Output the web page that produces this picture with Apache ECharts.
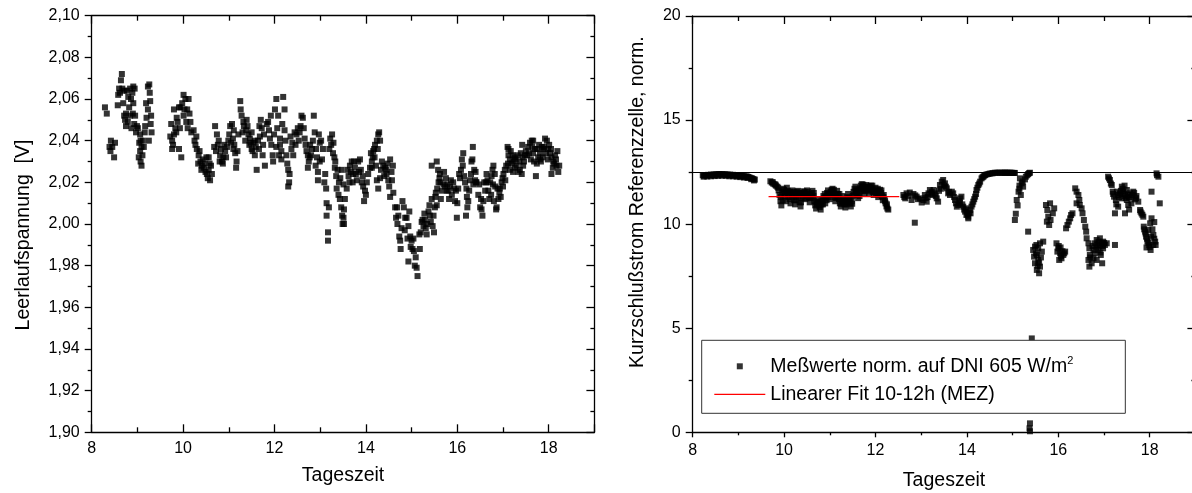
<!DOCTYPE html>
<html>
<head>
<meta charset="utf-8">
<script src="https://cdn.jsdelivr.net/npm/echarts@6/dist/echarts.min.js"></script>
<style>
  html, body { margin: 0; padding: 0; background: #fff; }
  #chart { width: 1192px; height: 493px; }
</style>
</head>
<body>
<div id="chart"></div>
<script>
// Open-circuit voltage over the day [time (h), voltage (V)]
const vocPoints = [
  [8.29,2.056],[8.33,2.053],[8.42,2.040],[8.51,2.039],[8.41,2.035],[8.45,2.037],[8.49,2.032],[8.39,2.037],
  [8.66,2.072],[8.64,2.069],[8.60,2.065],[8.67,2.065],[8.58,2.062],[8.57,2.057],[8.71,2.064],[8.77,2.064],
  [8.84,2.065],[8.91,2.066],[8.94,2.065],[8.89,2.063],[8.80,2.061],[8.86,2.060],[8.82,2.056],[8.91,2.058],
  [8.75,2.053],[8.71,2.052],[8.75,2.047],[8.84,2.052],[8.90,2.053],[8.95,2.052],[8.99,2.047],[9.01,2.046],
  [9.06,2.043],[9.07,2.040],[9.04,2.039],[9.09,2.037],[9.06,2.035],[9.11,2.033],[9.07,2.030],[9.09,2.028],
  [9.14,2.037],[9.16,2.044],[9.17,2.047],[9.20,2.051],[9.23,2.055],[9.28,2.059],[9.29,2.048],[9.31,2.044],
  [9.23,2.066],[9.26,2.067],[9.25,2.040],
  [8.62,2.063],[8.69,2.058],[8.73,2.050],[8.79,2.049],[8.87,2.046],[8.93,2.048],[8.97,2.044],[9.03,2.032],
  [9.12,2.040],[9.19,2.058],[9.27,2.063],[9.30,2.052],
  [9.76,2.040],[9.80,2.043],[9.76,2.036],[9.91,2.036],[9.96,2.032],[9.83,2.046],[9.86,2.051],[9.91,2.056],
  [10.01,2.062],[10.05,2.060],[10.12,2.060],[10.09,2.055],[10.01,2.052],[10.07,2.049],[10.16,2.049],[9.88,2.049],
  [9.80,2.055],[9.94,2.056],[9.72,2.042],[9.98,2.058],
  [9.74,2.048],[9.78,2.038],[9.85,2.044],[9.93,2.046],[10.03,2.055],[10.10,2.046],[10.14,2.053],[10.18,2.044],
  [10.23,2.045],[10.29,2.042],[10.25,2.040],[10.30,2.036],[10.34,2.033],[10.38,2.030],[10.41,2.028],[10.45,2.027],
  [10.49,2.025],[10.52,2.024],[10.56,2.026],[10.59,2.021],[10.51,2.032],[10.56,2.032],[10.61,2.028],[10.63,2.024],
  [10.36,2.035],[10.43,2.031],
  [10.27,2.038],[10.33,2.029],[10.40,2.026],[10.47,2.029],[10.54,2.022],[10.58,2.029],
  [10.70,2.047],[10.74,2.043],[10.78,2.040],[10.68,2.037],[10.72,2.035],[10.81,2.033],[10.85,2.030],[10.88,2.032],
  [10.92,2.035],[10.96,2.037],[10.99,2.040],[11.03,2.047],[11.07,2.048],[11.09,2.041],[11.12,2.038],[11.14,2.034],
  [11.16,2.027],[11.17,2.030],[11.21,2.043],[11.10,2.036],[10.87,2.029],[10.83,2.036],
  [10.76,2.038],[10.80,2.030],[10.90,2.038],[10.94,2.032],[11.01,2.043],[11.05,2.039],[11.11,2.045],[11.19,2.035],
  [11.25,2.059],[11.26,2.055],[11.28,2.052],[11.32,2.049],[11.33,2.047],[11.38,2.045],[11.39,2.050],[11.43,2.043],
  [11.46,2.041],[11.50,2.044],[11.45,2.038],[11.50,2.036],[11.54,2.039],[11.57,2.033],[11.61,2.026],[11.64,2.040],
  [11.68,2.042],[11.70,2.050],[11.72,2.046],[11.75,2.038],[11.74,2.033],[11.79,2.028],[11.67,2.047],[11.57,2.040],
  [11.30,2.044],[11.36,2.040],[11.41,2.047],[11.48,2.039],[11.52,2.035],[11.59,2.037],[11.66,2.036],[11.77,2.043],
  [11.83,2.048],[11.86,2.049],[11.90,2.041],[11.93,2.038],[11.96,2.033],[11.97,2.030],[12.01,2.055],[12.04,2.060],
  [12.08,2.052],[12.12,2.041],[12.15,2.035],[12.19,2.061],[12.22,2.055],[12.22,2.045],[12.26,2.033],[12.30,2.026],
  [12.32,2.020],[12.30,2.018],[12.33,2.024],[12.37,2.036],[12.41,2.033],[12.15,2.031],[12.12,2.038],[12.04,2.037],
  [11.88,2.045],[11.92,2.052],[11.99,2.043],[12.06,2.046],[12.10,2.033],[12.17,2.048],[12.24,2.040],[12.28,2.029],
  [12.35,2.042],[12.39,2.039],
  [12.44,2.044],[12.48,2.043],[12.51,2.046],[12.55,2.044],[12.59,2.052],[12.62,2.051],[12.66,2.041],[12.70,2.035],
  [12.73,2.027],[12.77,2.032],[12.80,2.033],[12.84,2.040],[12.86,2.052],[12.88,2.044],[12.91,2.036],[12.95,2.025],
  [12.95,2.021],[12.99,2.039],[13.02,2.040],[13.06,2.036],[12.99,2.030],[12.90,2.028],[12.73,2.033],[12.78,2.038],
  [12.46,2.038],[12.53,2.040],[12.57,2.047],[12.64,2.046],[12.68,2.038],[12.75,2.030],[12.82,2.036],[12.93,2.032],
  [12.97,2.043],[13.04,2.031],
  [13.09,2.020],[13.13,2.017],[13.14,2.010],[13.19,2.008],[13.14,2.004],[13.17,1.996],[13.17,1.992],[13.20,2.036],
  [13.24,2.038],[13.26,2.043],[13.29,2.039],[13.31,2.032],[13.33,2.030],[13.35,2.023],[13.38,2.026],[13.41,2.020],
  [13.36,2.017],[13.43,2.012],[13.46,2.008],[13.48,2.004],[13.49,2.000],
  [13.11,2.024],[13.22,2.041],[13.28,2.034],[13.32,2.027],[13.40,2.014],[13.44,2.022],
  [13.47,2.026],[13.51,2.019],[13.54,2.012],[13.52,2.007],[13.51,2.003],[13.52,2.000],[13.58,2.017],
  [13.62,2.023],[13.65,2.028],[13.69,2.030],[13.72,2.024],[13.76,2.027],[13.80,2.021],[13.83,2.030],[13.87,2.031],
  [13.89,2.026],[13.91,2.020],[13.94,2.018],[13.98,2.016],[13.96,2.011],[14.00,2.014],[14.02,2.020],[13.78,2.024],
  [13.71,2.020],[13.64,2.020],
  [13.60,2.026],[13.67,2.025],[13.74,2.030],[13.85,2.025],[13.93,2.023],[14.05,2.024],
  [14.09,2.027],[14.13,2.030],[14.15,2.032],[14.16,2.035],[14.18,2.036],[14.20,2.038],[14.24,2.040],[14.27,2.043],
  [14.29,2.044],[14.31,2.040],[14.13,2.027],[14.22,2.028],[14.24,2.021],[14.27,2.017],[14.31,2.022],[14.35,2.030],
  [14.38,2.028],[14.42,2.027],[14.45,2.024],[14.49,2.021],[14.51,2.018],[14.53,2.031],[14.56,2.025],[14.59,2.028],
  [14.60,2.015],[14.53,2.013],[14.45,2.026],
  [14.11,2.034],[14.19,2.032],[14.26,2.036],[14.33,2.026],[14.40,2.023],[14.47,2.029],[14.57,2.021],
  [14.64,2.008],[14.66,2.003],[14.71,2.004],[14.69,2.000],[14.73,1.994],[14.75,1.992],[14.76,1.988],[14.80,2.011],
  [14.83,2.008],[14.86,2.003],[14.89,2.003],[14.93,1.999],[14.97,1.994],[14.98,1.989],[15.00,1.992],[15.02,1.988],
  [14.93,1.982],[15.05,1.987],[15.07,1.980],[15.11,1.979],[15.13,1.975],[15.04,1.993],[15.18,1.988],[15.22,2.001],
  [15.24,2.002],
  [14.68,2.008],[14.78,1.998],[14.85,1.997],[14.91,1.993],[14.95,2.006],[15.09,1.984],
  [15.17,1.995],[15.26,1.999],[15.29,2.002],[15.31,1.998],[15.34,2.000],[15.37,2.006],[15.40,2.004],[15.42,2.001],
  [15.44,2.012],[15.46,1.999],[15.49,1.996],[15.51,2.008],[15.55,2.009],[15.53,2.015],[15.56,2.017],[15.59,2.020],
  [15.61,2.022],[15.44,2.028],[15.55,2.030],[15.62,2.024],[15.66,2.016],[15.64,2.012],
  [15.20,1.996],[15.28,2.005],[15.33,1.995],[15.39,2.009],[15.48,2.004],[15.52,2.013],[15.58,2.026],[15.63,2.020],
  [15.70,2.019],[15.73,2.018],[15.77,2.016],[15.80,2.016],[15.84,2.018],[15.88,2.014],[15.91,2.020],[15.95,2.011],
  [15.99,2.003],[16.02,2.017],[16.06,2.022],[15.71,2.025],[15.78,2.019],[15.97,2.016],[16.04,2.024],
  [15.75,2.022],[15.82,2.012],[15.86,2.021],[15.93,2.017],[16.00,2.010],[16.08,2.026],
  [16.10,2.031],[16.12,2.028],[16.15,2.023],[16.17,2.020],[16.21,2.013],[16.22,2.008],[16.24,2.011],[16.28,2.021],
  [16.31,2.030],[16.34,2.037],[16.35,2.019],[16.37,2.026],[16.39,2.021],[16.41,2.020],[16.19,2.004],[16.42,2.020],
  [16.13,2.034],[16.20,2.017],[16.26,2.016],[16.30,2.024],[16.33,2.031],[16.40,2.025],
  [16.46,2.014],[16.50,2.008],[16.53,2.007],[16.55,2.004],[16.57,2.011],[16.61,2.016],[16.63,2.020],[16.64,2.024],
  [16.68,2.016],[16.70,2.012],[16.72,2.020],[16.75,2.023],[16.77,2.026],[16.79,2.028],[16.83,2.018],[16.80,2.011],
  [16.85,2.007],[16.86,2.008],
  [16.48,2.019],[16.52,2.012],[16.59,2.020],[16.66,2.021],[16.74,2.014],[16.78,2.019],[16.82,2.024],
  [16.90,2.012],[16.92,2.015],[16.93,2.017],[16.97,2.020],[16.99,2.022],[17.01,2.024],[17.04,2.026],[17.07,2.028],
  [16.88,2.017],[16.95,2.013],[17.00,2.018],[17.05,2.021],
  [17.10,2.037],[17.12,2.033],[17.15,2.031],[17.19,2.029],[17.23,2.030],[17.26,2.027],[17.30,2.028],[17.34,2.025],
  [17.37,2.026],[17.41,2.024],[17.43,2.032],[17.44,2.028],[17.48,2.033],[17.50,2.035],[17.15,2.026],[17.26,2.032],
  [17.12,2.036],[17.21,2.033],
  [17.11,2.029],[17.17,2.035],[17.22,2.025],[17.28,2.031],[17.32,2.033],[17.36,2.030],[17.39,2.034],[17.46,2.030],
  [17.42,2.038],
  [17.55,2.037],[17.59,2.039],[17.63,2.040],[17.66,2.040],[17.70,2.036],[17.74,2.029],[17.77,2.032],[17.81,2.034],
  [17.85,2.037],[17.88,2.036],[17.92,2.041],[17.96,2.040],[17.99,2.036],[18.03,2.034],[18.06,2.032],[18.10,2.030],
  [18.14,2.033],[18.17,2.028],[18.21,2.025],[18.06,2.024],[17.72,2.023],[17.81,2.031],[17.66,2.034],[17.53,2.033],
  [17.57,2.034],[17.61,2.031],[17.64,2.037],[17.68,2.030],[17.75,2.036],[17.79,2.038],[17.83,2.030],[17.87,2.032],
  [17.90,2.037],[17.94,2.034],[17.98,2.031],[18.01,2.038],[18.05,2.036],[18.09,2.027],[18.12,2.029],[18.16,2.031],
  [18.19,2.035],[18.23,2.028]
];

// Normalised short-circuit current of the reference cell [time (h), current]
const iscPoints = [
  [8.22,12.35],[8.25,12.33],[8.28,12.36],[8.31,12.34],[8.34,12.37],[8.37,12.35],[8.40,12.38],[8.43,12.36],
  [8.46,12.39],[8.49,12.37],[8.52,12.40],[8.55,12.38],[8.58,12.41],[8.61,12.39],[8.64,12.40],[8.67,12.38],
  [8.70,12.40],[8.73,12.37],[8.76,12.39],[8.79,12.36],[8.82,12.38],[8.85,12.35],[8.88,12.37],[8.91,12.34],
  [8.94,12.36],[8.97,12.33],[9.00,12.35],[9.03,12.32],[9.06,12.34],[9.09,12.31],[9.12,12.30],[9.15,12.28],
  [9.18,12.30],[9.21,12.27],[9.24,12.25],[9.27,12.22],[9.30,12.20],[9.33,12.17],[9.36,12.14],
  [8.24,12.28],[8.32,12.29],[8.40,12.30],[8.48,12.31],[8.56,12.32],[8.64,12.33],[8.72,12.32],[8.80,12.30],
  [8.88,12.30],[8.96,12.28],[9.04,12.26],[9.12,12.24],[9.20,12.22],[9.28,12.16],[9.34,12.10],
  [9.70,12.06],[9.73,12.00],[9.76,11.95],[9.79,11.92],[9.82,11.85],[9.85,11.80],[9.88,11.62],[9.90,11.40],
  [9.92,11.10],[9.94,10.90],[9.96,11.55],[9.98,11.70],[10.00,11.65],[10.02,11.35],[10.04,11.10],[10.06,11.75],
  [10.08,11.60],[10.10,11.45],[10.12,11.20],[10.14,11.00],[10.16,11.50],[10.18,11.62],[10.20,11.40],[10.22,11.15],
  [10.24,10.95],[10.26,11.30],[10.28,11.55],[10.30,11.60],[10.32,11.35],[10.34,11.05],[10.36,10.85],[10.38,11.25],
  [10.40,11.50],[10.42,11.58],[10.44,11.45],[10.46,11.20],[10.48,11.40],[10.50,11.62],[10.52,11.55],[10.54,11.30],
  [10.56,11.05],[10.58,11.25],[10.60,11.48],[10.62,11.60],[10.64,11.35],[10.66,11.10],[10.68,10.90],[10.70,10.75],
  [10.72,10.95],[10.74,11.20],[10.76,11.05],[10.78,10.82],[10.80,10.70],[10.82,10.95],[10.84,11.15],[10.86,11.35],
  [10.88,11.25],[10.90,11.00],[10.92,11.30],[10.94,11.50],[10.96,11.62],[10.98,11.45],[11.00,11.20],[11.02,11.55],
  [11.04,11.65],[11.06,11.70],[11.08,11.50],[11.10,11.30],[11.12,11.10],[11.14,11.40],[11.16,11.60],[11.18,11.45],
  [11.20,11.20],[11.22,11.00],[11.24,10.85],[11.26,11.10],[11.28,11.35],[11.30,11.15],[11.32,10.95],[11.34,10.80],
  [11.36,11.05],[11.38,11.30],[11.40,11.45],[11.42,11.25],[11.44,11.00],[11.46,10.85],[11.48,11.10],[11.50,11.35],
  [11.52,11.55],[11.54,11.70],[11.56,11.80],[11.58,11.62],[11.60,11.40],[11.62,11.25],[11.64,11.50],[11.66,11.72],
  [11.68,11.85],[11.70,11.92],[11.72,11.78],[11.74,11.60],[11.76,11.45],[11.78,11.70],[11.80,11.88],[11.82,11.80],
  [11.84,11.65],[11.86,11.50],[11.88,11.75],[11.90,11.85],[11.92,11.70],[11.94,11.55],[11.96,11.40],[11.98,11.62],
  [12.00,11.75],[12.02,11.60],[12.04,11.45],[12.06,11.30],[12.08,11.55],[12.10,11.65],[12.12,11.50],[12.14,11.35],
  [12.16,11.15],[12.18,11.40],[12.20,11.20],[12.22,11.00],[12.24,10.85],[12.26,10.75],[12.28,10.70],
  [9.75,12.02],[9.81,11.90],[9.87,11.75],[9.93,11.30],[9.97,11.15],[10.01,11.45],[10.05,11.55],[10.09,11.30],
  [10.13,11.55],[10.17,11.30],[10.21,11.55],[10.25,11.15],[10.29,11.45],[10.33,11.50],[10.37,11.05],[10.41,11.35],
  [10.45,11.55],[10.49,11.25],[10.53,11.45],[10.57,11.40],[10.61,11.30],[10.65,11.50],[10.69,11.05],[10.73,11.05],
  [10.77,10.90],[10.81,11.10],[10.85,10.95],[10.89,11.45],[10.93,11.15],[10.97,11.30],[11.01,11.40],[11.05,11.45],
  [11.09,11.65],[11.13,11.25],[11.17,11.30],[11.21,11.45],[11.25,10.98],[11.29,11.20],[11.33,11.10],[11.37,10.95],
  [11.41,11.15],[11.45,11.20],[11.49,10.98],[11.53,11.40],[11.57,11.55],[11.61,11.60],[11.65,11.35],[11.69,11.65],
  [11.73,11.90],[11.77,11.60],[11.81,11.65],[11.85,11.80],[11.89,11.60],[11.93,11.85],[11.97,11.55],[12.01,11.50],
  [12.05,11.70],[12.09,11.40],[12.13,11.62],[12.17,11.30],[12.21,11.10],[12.25,10.95],
  [12.61,11.40],[12.65,11.24],[12.68,11.48],[12.75,11.52],[12.79,11.16],[12.83,11.45],[12.90,11.32],[12.97,11.24],
  [13.01,11.04],[13.05,11.16],[13.08,11.40],[13.12,11.08],[13.16,11.48],[13.19,11.64],[13.23,11.56],[13.27,11.64],
  [13.30,11.48],[13.34,11.24],[13.37,11.08],[13.41,11.88],[13.45,12.04],[13.48,12.12],[13.52,11.96],[13.56,11.72],
  [13.59,11.48],[13.63,11.40],[12.86,10.07],
  [12.63,11.30],[12.71,11.36],[12.87,11.38],[12.93,11.20],[13.10,11.25],[13.14,11.30],[13.21,11.45],[13.25,11.40],
  [13.32,11.35],[13.39,11.60],[13.43,11.70],[13.50,11.85],[13.54,11.80],[13.61,11.55],
  [13.70,11.48],[13.74,11.16],[13.81,10.92],[13.85,11.00],[13.92,10.84],[13.96,10.60],[13.99,10.44],[14.03,10.36],
  [14.07,10.68],[14.10,10.84],[14.14,11.08],[14.18,11.32],[14.21,11.64],[13.88,11.32],[13.78,10.84],[14.03,10.28],
  [13.98,10.76],[13.67,11.56],[13.85,11.24],[14.08,10.52],
  [13.72,11.30],[13.76,11.00],[13.83,11.10],[13.90,10.95],[13.94,10.70],[14.01,10.50],[14.05,10.55],[14.12,10.95],
  [14.16,11.20],[14.20,11.45],[14.23,11.75],
  [14.25,11.88],[14.29,12.04],[14.32,12.20],[14.36,12.28],[14.40,12.36],[14.47,12.41],[14.54,12.44],[14.61,12.47],
  [14.69,12.47],[14.76,12.47],[14.83,12.47],[14.91,12.47],[14.98,12.47],[15.05,12.46],[14.50,12.43],[14.65,12.47],
  [14.80,12.47],[14.87,12.47],[14.94,12.46],[15.01,12.46],
  [14.27,11.95],[14.34,12.25],[14.38,12.33],[14.43,12.39],[14.57,12.45],[14.72,12.47],[14.84,12.47],[14.95,12.47],
  [15.03,12.46],
  [15.16,12.20],[15.20,11.96],[15.23,11.80],[15.29,12.28],[15.34,12.41],[15.38,12.47],[15.13,11.56],[15.09,11.16],
  [15.05,10.20],[15.34,9.64],[15.18,11.40],
  [15.11,10.90],[15.15,11.85],[15.22,12.05],[15.27,12.15],[15.32,12.35],[15.36,12.45],[15.07,10.50],[15.15,11.70],
  [15.42,4.51],[15.38,0.43],[15.37,0.19],[15.38,0.05],
  [15.45,8.76],[15.49,8.92],[15.53,8.52],[15.56,8.28],[15.49,8.12],[15.60,7.96],[15.58,7.64],[15.53,7.80],
  [15.64,8.68],[15.60,9.08],[15.67,9.16],[15.47,8.44],[15.56,8.84],
  [15.51,8.60],[15.55,8.00],[15.62,8.40],[15.52,9.00],[15.58,8.15],
  [15.73,10.92],[15.76,10.68],[15.78,10.36],[15.75,10.12],[15.80,9.96],[15.83,10.20],[15.88,10.52],[15.91,10.76],
  [15.82,11.00],
  [15.96,9.08],[16.00,8.84],[16.04,8.60],[16.07,8.36],[16.11,8.52],[16.15,8.68],[16.02,8.28],[15.98,8.68],
  [16.05,8.88],[16.01,8.95],[16.06,8.45],[16.09,8.70],[16.13,8.60],
  [16.17,9.80],[16.20,9.96],[16.23,10.12],[16.26,10.28],[16.28,10.44],[16.31,10.52],
  [16.37,11.72],[16.40,11.56],[16.44,11.40],[16.46,11.16],[16.40,11.00],[16.47,10.92],
  [16.51,10.76],[16.53,10.52],[16.56,10.20],[16.59,9.88],[16.61,9.64],
  [16.62,9.32],[16.66,9.08],[16.68,8.84],[16.69,8.52],[16.66,8.28],[16.68,7.96],[16.73,8.12],[16.77,8.76],
  [16.80,9.08],[16.84,9.24],[16.88,9.16],[16.91,9.32],[16.95,9.08],[16.98,8.84],[17.02,9.00],[16.88,8.76],
  [16.93,8.52],[16.84,8.28],[16.96,8.12],[17.06,9.08],[17.24,9.00],[16.77,8.36],[16.90,8.96],[16.83,8.88],
  [16.98,9.16],[16.70,8.40],[16.75,8.95],[16.86,9.00],[16.92,8.64],[16.97,8.95],[17.00,9.10],[16.80,8.60],
  [17.09,12.28],[17.13,12.12],[17.17,11.88],[17.19,11.56],[17.22,11.32],[17.26,11.16],[17.31,11.40],[17.35,11.48],
  [17.39,11.24],[17.42,11.56],[17.46,11.35],[17.50,11.16],[17.53,11.40],[17.57,11.48],[17.60,11.29],[17.64,11.56],
  [17.68,11.19],[17.71,11.35],[17.39,11.80],[17.24,10.52],[17.46,10.52],[17.31,10.84],[17.53,10.92],[17.75,11.08],
  [17.60,11.00],[17.28,11.56],[17.50,11.64],
  [17.11,12.20],[17.15,11.95],[17.20,11.45],[17.33,11.30],[17.37,11.60],[17.44,11.45],[17.48,11.25],[17.55,11.30],
  [17.62,11.40],[17.66,11.50],[17.70,11.25],[17.41,11.70],[17.45,11.85],[17.27,10.95],[17.55,10.70],
  [17.79,10.68],[17.82,10.52],[17.86,10.36],[17.87,9.88],[17.90,9.64],[17.92,9.40],[17.95,9.16],[17.99,9.00],
  [18.02,8.76],[18.08,9.00],[17.97,9.72],[18.01,10.04],[18.04,10.28],[18.08,9.48],[18.12,9.16],[18.04,11.56],
  [18.15,12.44],[18.19,12.28],[18.22,11.00],[17.93,8.88],
  [17.80,10.60],[17.84,10.45],[17.88,9.75],[17.91,9.55],[17.94,9.30],[17.97,9.10],[18.03,9.40],[18.06,9.75],
  [18.10,9.30],[18.13,9.00],[18.16,12.35],[18.10,10.10],[18.00,8.90]
];

// Linear fit over the late-morning window
const fitPoints = [[9.66, 11.32], [12.52, 11.32]];
// Reference level of the normalised current
const refLevel = 12.5;

const timeRange = { min: 8, max: 19, interval: 2 };
const vocRange = { min: 1.9, max: 2.1, interval: 0.02 };
const iscRange = { min: 0, max: 20, interval: 5 };

const FONT = "'Liberation Sans', Arial, Helvetica, sans-serif";
const INK = '#000';
const FIT_RED = '#ff0000';

function timeAxis(grid, pos, opts) {
  return Object.assign({
    type: 'value', gridIndex: grid, position: pos,
    min: timeRange.min, max: timeRange.max, interval: timeRange.interval,
    axisLine: { show: true, onZero: false, lineStyle: { color: INK, width: 1.3 } },
    axisTick: { show: true, inside: true, length: 8, lineStyle: { color: INK, width: 1.3 } },
    minorTick: { show: true, splitNumber: 2, length: 5, lineStyle: { color: INK, width: 1.3 } },
    splitLine: { show: false },
    axisLabel: { show: false }
  }, opts || {});
}

function valueAxis(grid, pos, range, opts) {
  return Object.assign({
    type: 'value', gridIndex: grid, position: pos,
    min: range.min, max: range.max, interval: range.interval,
    axisLine: { show: true, onZero: false, lineStyle: { color: INK, width: 1.3 } },
    axisTick: { show: true, inside: true, length: 8, lineStyle: { color: INK, width: 1.3 } },
    minorTick: { show: true, splitNumber: 2, length: 4, lineStyle: { color: INK, width: 1.3 } },
    splitLine: { show: false },
    axisLabel: { show: false }
  }, opts || {});
}

const tickLabel = {
  show: true, color: INK, fontSize: 16, fontFamily: FONT,
  formatter: v => (v === timeRange.max ? '' : String(v))
};

const chart = echarts.init(document.getElementById('chart'), null, { renderer: 'canvas' });

chart.setOption({
  animation: false,
  backgroundColor: '#fff',
  grid: [
    { left: 91.7, top: 15.7, width: 502.7, height: 416.6, containLabel: false, outerBoundsMode: 'none' },
    { left: 692.7, top: 16, width: 502.7, height: 416.3, containLabel: false, outerBoundsMode: 'none' }
  ],
  xAxis: [
    timeAxis(0, 'bottom', {
      name: 'Tageszeit', nameLocation: 'middle', nameGap: 33,
      nameTextStyle: { color: INK, fontSize: 19.5, fontFamily: FONT },
      axisLabel: Object.assign({}, tickLabel, { margin: 8 })
    }),
    timeAxis(0, 'top'),
    timeAxis(1, 'bottom', {
      name: 'Tageszeit', nameLocation: 'middle', nameGap: 38,
      nameTextStyle: { color: INK, fontSize: 19.5, fontFamily: FONT },
      axisTick: { show: true, inside: false, length: 5, lineStyle: { color: INK, width: 1.3 } },
      minorTick: { show: true, splitNumber: 2, length: 3, lineStyle: { color: INK, width: 1.3 } },
      axisLabel: Object.assign({}, tickLabel, { margin: 10 })
    }),
    timeAxis(1, 'top')
  ],
  yAxis: [
    valueAxis(0, 'left', vocRange, {
      name: 'Leerlaufspannung  [V]', nameLocation: 'middle', nameGap: 58, nameRotate: 90,
      nameTextStyle: { color: INK, fontSize: 19.5, fontFamily: FONT, padding: [0, 22, 0, 0] },
      axisTick: { show: true, inside: false, length: 7, lineStyle: { color: INK, width: 1.3 } },
      minorTick: { show: true, splitNumber: 2, length: 4, lineStyle: { color: INK, width: 1.3 } },
      axisLabel: { show: true, color: INK, fontSize: 16, fontFamily: FONT, margin: 12,
        formatter: v => v.toFixed(2).replace('.', ',') }
    }),
    valueAxis(0, 'right', vocRange),
    valueAxis(1, 'left', iscRange, {
      name: 'Kurzschlußstrom Referenzzelle, norm.', nameLocation: 'middle', nameGap: 45, nameRotate: 90,
      nameTextStyle: { color: INK, fontSize: 19.5, fontFamily: FONT, padding: [0, 0, 0, 44] },
      axisTick: { show: true, inside: false, length: 7, lineStyle: { color: INK, width: 1.3 } },
      minorTick: { show: true, splitNumber: 2, length: 4, lineStyle: { color: INK, width: 1.3 } },
      axisLabel: { show: true, color: INK, fontSize: 16, fontFamily: FONT, margin: 12 }
    }),
    valueAxis(1, 'right', iscRange)
  ],
  legend: {
    left: 701.7, top: 340.3,
    orient: 'vertical',
    itemWidth: 51, itemHeight: 6, itemGap: 6,
    padding: [15, 52, 8, 12.6],
    borderColor: '#333', borderWidth: 1, borderRadius: 0,
    backgroundColor: '#fff',
    selectedMode: false,
    data: [
      { name: 'Meßwerte norm. auf DNI 605 W/m²', icon: 'path://M0,0H10V10H0Z' },
      { name: 'Linearer Fit 10-12h (MEZ)', icon: 'path://M0,0H51V1.2H0Z', itemStyle: { color: FIT_RED } }
    ],
    formatter: name => name.endsWith('²')
      ? '{t|' + name.slice(0, -1) + '}{s|2}'
      : '{t|' + name + '}',
    textStyle: {
      color: INK, fontSize: 19.5, fontFamily: FONT, lineHeight: 22,
      rich: {
        t: { color: INK, fontSize: 19.5, fontFamily: FONT, lineHeight: 22 },
        s: { color: INK, fontSize: 11, fontFamily: FONT, verticalAlign: 'top', lineHeight: 22 }
      }
    }
  },
  series: [
    {
      name: 'Leerlaufspannung',
      type: 'scatter', xAxisIndex: 0, yAxisIndex: 0,
      symbol: 'rect', symbolSize: 6,
      itemStyle: { color: INK },
      data: vocPoints
    },
    {
      name: 'Meßwerte norm. auf DNI 605 W/m²',
      type: 'scatter', xAxisIndex: 2, yAxisIndex: 2,
      symbol: 'rect', symbolSize: 6,
      itemStyle: { color: INK },
      data: iscPoints,
      markLine: {
        silent: true, symbol: ['none', 'none'],
        label: { show: false },
        lineStyle: { color: INK, width: 1.2, type: 'solid' },
        data: [{ yAxis: refLevel }]
      }
    },
    {
      name: 'Linearer Fit 10-12h (MEZ)',
      type: 'line', xAxisIndex: 2, yAxisIndex: 2,
      symbol: 'none', showSymbol: false,
      lineStyle: { color: FIT_RED, width: 1.2 },
      itemStyle: { color: FIT_RED },
      data: fitPoints,
      z: 3
    }
  ]
});
</script>
</body>
</html>
